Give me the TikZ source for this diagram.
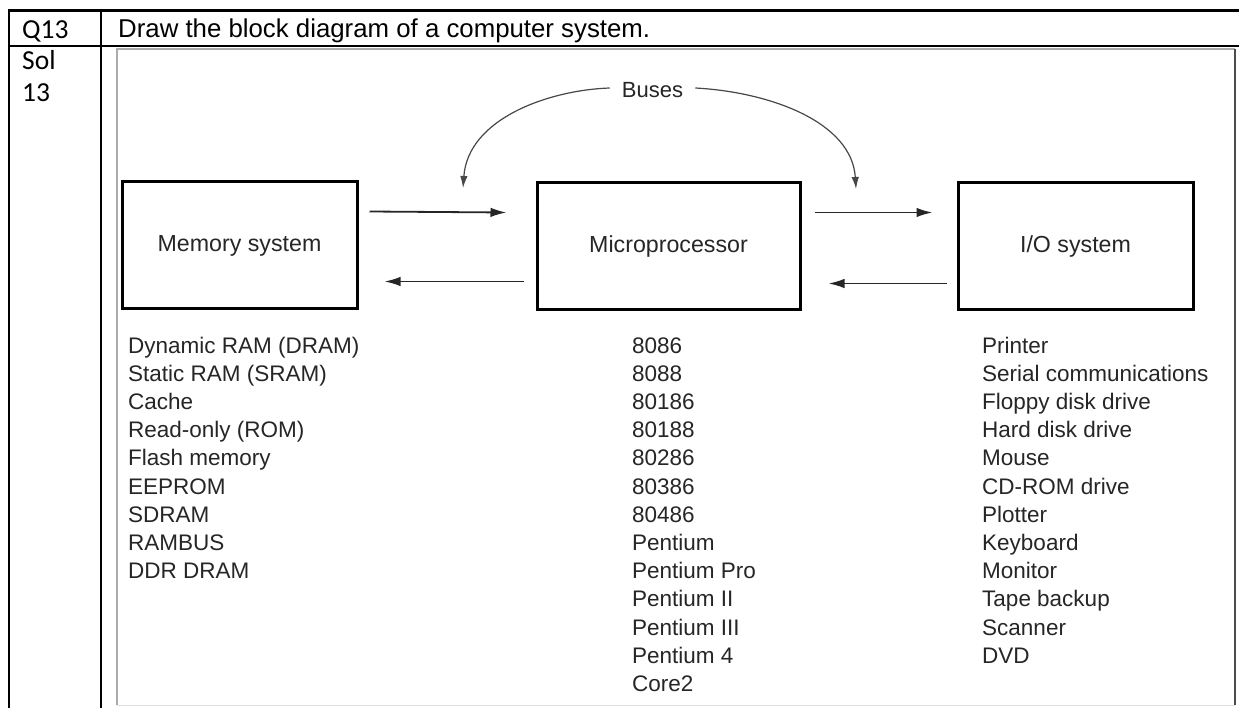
\documentclass[tikz,border=0pt]{standalone}
\usepackage{fontspec}
\setmainfont{Liberation Sans}
\newfontfamily\calfont{Carlito}
\usetikzlibrary{arrows.meta}
\definecolor{ink}{HTML}{262626}
\tikzset{
  blockbox/.style={draw=black, line width=3pt, minimum width=235pt, minimum height=127pt, inner sep=0pt, text=ink, font=\fontsize{23.2}{27}\selectfont},
  listtxt/.style={anchor=base west, inner sep=0pt, text=ink, font=\fontsize{22.5}{26}\selectfont},
  arr/.style={draw=ink, line width=1.8pt, -{Latex[length=16pt,width=9.5pt]}},
  busarr/.style={draw=ink!85, line width=1.2pt, -{Latex[length=12pt,width=7.5pt]}},
  tabline/.style={draw=black, line width=2.4pt},
  cell/.style={inner sep=0pt, anchor=base west}
}
\begin{document}
\begin{tikzpicture}[x=1pt,y=1pt]
\useasboundingbox (0,0) rectangle (1239,-708);
\fill[white] (0,0) rectangle (1239,-708);
% table
\draw[tabline] (9,-10.5) -- (1239,-10.5);
\draw[tabline] (9,-46) -- (1239,-46);
\draw[tabline] (9,-9.3) -- (9,-708);
\draw[tabline] (101,-10.5) -- (101,-708);
\node[cell, font=\calfont\fontsize{27.5}{30}\selectfont] (q) at (22,-38.5) {Q13};
\node[cell, font=\calfont\fontsize{27.5}{30}\selectfont] (sol) at (22,-70) {Sol};
\node[cell, font=\calfont\fontsize{27.5}{30}\selectfont] (num) at (22,-102) {13};
\node[cell, font=\fontsize{25.8}{30}\selectfont] (title) at (118,-37.5) {Draw the block diagram of a computer system.};
% image frame
\draw[gray!65, line width=2pt] (117,-705) -- (117,-49) -- (1235,-49);
\draw[black!70, line width=2.6pt] (1235,-49) -- (1235,-705);
\draw[gray!25, line width=1pt] (117,-705.5) -- (1235,-705.5);
% blocks
\node[blockbox] (mem) at (239.5,-245.5) {Memory system};
\node[blockbox, minimum width=263pt] (mic) at (668.5,-246.5) {Microprocessor};
\node[blockbox] (io) at (1075.5,-246.5) {I/O system};
% arrows
\draw[arr] ([shift={(11,-31)}]mem.north east) -- ([shift={(-29,-31)}]mic.north west);
\draw[arr] ([shift={(-12,-100)}]mic.north west) -- ([shift={(26,-101)}]mem.north east);
\draw[arr] ([shift={(13,-31)}]mic.north east) -- ([shift={(-24,-31)}]io.north west);
\draw[arr] ([shift={(-10,-102)}]io.north west) -- ([shift={(27,-102)}]mic.north east);
% buses
\node[text=ink, inner xsep=12pt, inner ysep=0pt, font=\fontsize{22}{26}\selectfont] (bus) at (652.5,-90) {Buses};
\coordinate (busL) at (463,-188);
\coordinate (busR) at (856,-189);
\draw[busarr] ([yshift=2pt]bus.west) .. controls (550,-90) and (468,-118) .. (busL);
\draw[busarr] ([yshift=2pt]bus.east) .. controls (770,-92) and (852,-122) .. (busR);
% lists
\foreach \t [count=\i] in {Dynamic RAM (DRAM), Static RAM (SRAM), Cache, Read-only (ROM), Flash memory, EEPROM, SDRAM, RAMBUS, DDR DRAM}
  \node[listtxt] (m\i) at (128,{-353-(\i-1)*28.2}) {\t};
\foreach \t [count=\i] in {8086, 8088, 80186, 80188, 80286, 80386, 80486, Pentium, Pentium Pro, Pentium II, Pentium III, Pentium 4, Core2}
  \node[listtxt] (p\i) at (632,{-353-(\i-1)*28.2}) {\t};
\foreach \t [count=\i] in {Printer, Serial communications, Floppy disk drive, Hard disk drive, Mouse, CD-ROM drive, Plotter, Keyboard, Monitor, Tape backup, Scanner, DVD}
  \node[listtxt] (d\i) at (982,{-353-(\i-1)*28.2}) {\t};
\end{tikzpicture}
\end{document}
